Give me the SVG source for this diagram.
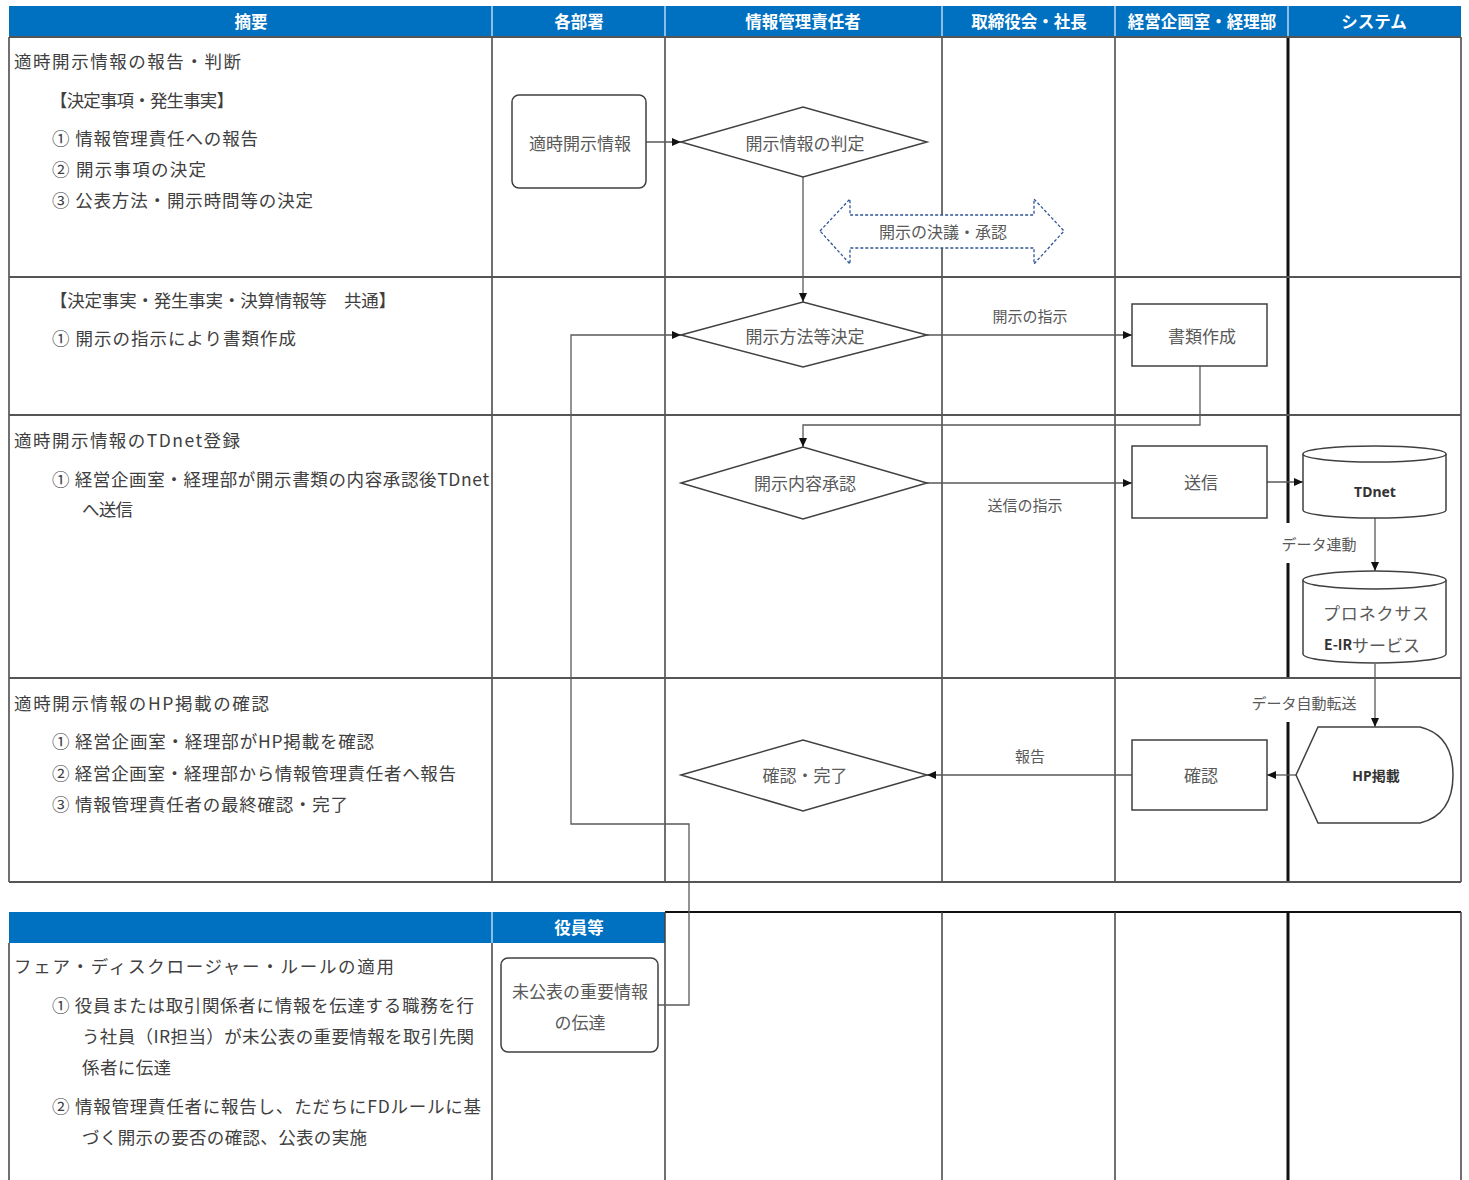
<svg xmlns="http://www.w3.org/2000/svg" width="1469" height="1180" viewBox="0 0 1469 1180">
<style>
.hdr{fill:#0070C0}
.hdrdiv{stroke:#BDD7EE;stroke-width:1.5}
.ht{font-family:"Noto Sans CJK JP","Noto Sans",sans-serif;font-size:16.5px;font-weight:bold;fill:#fff;text-anchor:middle;dominant-baseline:central}
.grid{stroke:#404040;stroke-width:1.5;fill:none}
.rowl{stroke:#555;stroke-width:2;fill:none}
.thick{stroke:#111;stroke-width:3;fill:none}
.lt{font-family:"Noto Sans CJK JP","Noto Sans",sans-serif;font-size:17.5px;fill:#404040;dominant-baseline:central}
.shape{fill:#fff;stroke:#404040;stroke-width:1.5}
.nt{font-family:"Noto Sans CJK JP","Noto Sans",sans-serif;font-size:17px;fill:#595959;text-anchor:middle;dominant-baseline:central}
.nb{font-family:"Noto Sans","Noto Sans CJK JP",sans-serif;font-size:14px;font-weight:bold;fill:#333;text-anchor:middle;dominant-baseline:central}
.lab{font-family:"Noto Sans CJK JP","Noto Sans",sans-serif;font-size:15px;fill:#595959;text-anchor:middle;dominant-baseline:central}
.con{stroke:#595959;stroke-width:1.3;fill:none}
.dash{fill:#fff;stroke:#2F5597;stroke-width:1.3;stroke-dasharray:3 2}
</style>
<defs>
<marker id="ah" markerUnits="userSpaceOnUse" markerWidth="10" markerHeight="10" refX="9" refY="5" orient="auto">
<path d="M0,1 L9,5 L0,9 z" fill="#111"/>
</marker>
</defs>

<g id="table">
<rect class="hdr" x="9" y="6" width="1452" height="31"/>
<line class="hdrdiv" x1="492" y1="6" x2="492" y2="37"/>
<line class="hdrdiv" x1="665" y1="6" x2="665" y2="37"/>
<line class="hdrdiv" x1="942" y1="6" x2="942" y2="37"/>
<line class="hdrdiv" x1="1115" y1="6" x2="1115" y2="37"/>
<line class="hdrdiv" x1="1288" y1="6" x2="1288" y2="37"/>
<text class="ht" x="251" y="21">摘要</text>
<text class="ht" x="579" y="21">各部署</text>
<text class="ht" x="803" y="21">情報管理責任者</text>
<text class="ht" x="1029" y="21">取締役会・社長</text>
<text class="ht" x="1202" y="21">経営企画室・経理部</text>
<text class="ht" x="1374" y="21">システム</text>

<line class="grid" x1="9" y1="37" x2="9" y2="882"/>
<line class="grid" x1="492" y1="37" x2="492" y2="882"/>
<line class="grid" x1="665" y1="37" x2="665" y2="882"/>
<line class="grid" x1="942" y1="37" x2="942" y2="882"/>
<line class="grid" x1="1115" y1="37" x2="1115" y2="882"/>
<line class="grid" x1="1461" y1="37" x2="1461" y2="882"/>
<line class="thick" x1="1288" y1="37" x2="1288" y2="523"/>
<line class="thick" x1="1288" y1="563" x2="1288" y2="679"/>
<line class="thick" x1="1288" y1="722" x2="1288" y2="882"/>
<line class="rowl" x1="9" y1="37" x2="1461" y2="37"/>
<line class="rowl" x1="9" y1="277" x2="1461" y2="277"/>
<line class="rowl" x1="9" y1="415" x2="1461" y2="415"/>
<line class="rowl" x1="9" y1="678" x2="1461" y2="678"/>
<line class="rowl" x1="9" y1="882" x2="1461" y2="882"/>

<rect class="hdr" x="9" y="912" width="656" height="31"/>
<line class="hdrdiv" x1="492" y1="912" x2="492" y2="943"/>
<text class="ht" x="579" y="927">役員等</text>
<line class="rowl" x1="665" y1="912" x2="1461" y2="912" style="stroke:#111"/>
<line class="grid" x1="9" y1="943" x2="9" y2="1180"/>
<line class="grid" x1="492" y1="943" x2="492" y2="1180"/>
<line class="grid" x1="665" y1="912" x2="665" y2="1180"/>
<line class="grid" x1="942" y1="912" x2="942" y2="1180"/>
<line class="grid" x1="1115" y1="912" x2="1115" y2="1180"/>
<line class="thick" x1="1288" y1="912" x2="1288" y2="1180"/>
<line class="grid" x1="1461" y1="912" x2="1461" y2="1180"/>
</g>

<g id="summary-text">
<text class="lt" x="14" y="60" textLength="227" lengthAdjust="spacing">適時開示情報の報告・判断</text>
<text class="lt" x="50" y="99" textLength="184" lengthAdjust="spacing">【決定事項・発生事実】</text>
<text class="lt" x="52" y="137" textLength="206" lengthAdjust="spacing">① 情報管理責任への報告</text>
<text class="lt" x="52" y="168" textLength="154" lengthAdjust="spacing">② 開示事項の決定</text>
<text class="lt" x="52" y="199" textLength="261" lengthAdjust="spacing">③ 公表方法・開示時間等の決定</text>
<text class="lt" x="50" y="299" textLength="346" lengthAdjust="spacing">【決定事実・発生事実・決算情報等　共通】</text>
<text class="lt" x="52" y="337" textLength="244" lengthAdjust="spacing">① 開示の指示により書類作成</text>
<text class="lt" x="14" y="439" textLength="226" lengthAdjust="spacing">適時開示情報のTDnet登録</text>
<text class="lt" x="52" y="478" textLength="437" lengthAdjust="spacing">① 経営企画室・経理部が開示書類の内容承認後TDnet</text>
<text class="lt" x="82" y="508" textLength="51" lengthAdjust="spacing">へ送信</text>
<text class="lt" x="14" y="702" textLength="255" lengthAdjust="spacing">適時開示情報のHP掲載の確認</text>
<text class="lt" x="52" y="740" textLength="322" lengthAdjust="spacing">① 経営企画室・経理部がHP掲載を確認</text>
<text class="lt" x="52" y="772" textLength="404" lengthAdjust="spacing">② 経営企画室・経理部から情報管理責任者へ報告</text>
<text class="lt" x="52" y="803" textLength="296" lengthAdjust="spacing">③ 情報管理責任者の最終確認・完了</text>
<text class="lt" x="14" y="965" textLength="380" lengthAdjust="spacing">フェア・ディスクロージャー・ルールの適用</text>
<text class="lt" x="52" y="1004" textLength="422" lengthAdjust="spacing">① 役員または取引関係者に情報を伝達する職務を行</text>
<text class="lt" x="82" y="1035" textLength="392" lengthAdjust="spacing">う社員（IR担当）が未公表の重要情報を取引先関</text>
<text class="lt" x="82" y="1066" textLength="89" lengthAdjust="spacing">係者に伝達</text>
<text class="lt" x="52" y="1105" textLength="429" lengthAdjust="spacing">② 情報管理責任者に報告し、ただちにFDルールに基</text>
<text class="lt" x="82" y="1136" textLength="285" lengthAdjust="spacing">づく開示の要否の確認、公表の実施</text>
</g>

<g id="connectors">
<line class="con" x1="646" y1="142" x2="681" y2="142" marker-end="url(#ah)"/>
<line class="con" x1="803" y1="177" x2="803" y2="302" marker-end="url(#ah)"/>
<line class="con" x1="927" y1="335" x2="1132" y2="335" marker-end="url(#ah)"/>
<text class="lab" x="1030" y="315">開示の指示</text>
<polyline class="con" points="1200,366 1200,425 803,425 803,447" marker-end="url(#ah)"/>
<line class="con" x1="927" y1="483" x2="1132" y2="483" marker-end="url(#ah)"/>
<text class="lab" x="1025" y="504">送信の指示</text>
<line class="con" x1="1267" y1="482" x2="1303" y2="482" marker-end="url(#ah)"/>
<line class="con" x1="1375" y1="518" x2="1375" y2="571" marker-end="url(#ah)"/>
<text class="lab" x="1319" y="543">データ連動</text>
<line class="con" x1="1375" y1="664" x2="1375" y2="727" marker-end="url(#ah)"/>
<text class="lab" x="1304" y="702">データ自動転送</text>
<line class="con" x1="1296" y1="775" x2="1267" y2="775" marker-end="url(#ah)"/>
<line class="con" x1="1132" y1="775" x2="927" y2="775" marker-end="url(#ah)"/>
<text class="lab" x="1030" y="755">報告</text>
<polyline class="con" points="658,1005 689,1005 689,824 571,824 571,335 681,335" marker-end="url(#ah)"/>
</g>

<g id="n-tekiji">
<rect class="shape" x="512" y="95" width="134" height="93" rx="7"/>
<text class="nt" x="580" y="142">適時開示情報</text>
</g>
<g id="n-hantei">
<polygon class="shape" points="681,142 803,107 927,142 803,177"/>
<text class="nt" x="805" y="142">開示情報の判定</text>
</g>
<g id="n-ketsugi">
<polygon class="dash" points="820,231 850,199 850,215 1034,215 1034,199 1064,231 1034,264 1034,248 850,248 850,264"/>
<text class="lab" x="943" y="231" style="font-size:16px">開示の決議・承認</text>
</g>
<g id="n-houhou">
<polygon class="shape" points="681,335 803,302 927,335 803,367"/>
<text class="nt" x="805" y="335">開示方法等決定</text>
</g>
<g id="n-shorui">
<rect class="shape" x="1132" y="304" width="135" height="62"/>
<text class="nt" x="1202" y="335">書類作成</text>
</g>
<g id="n-shounin">
<polygon class="shape" points="681,483 803,447 927,483 803,519"/>
<text class="nt" x="805" y="482">開示内容承認</text>
</g>
<g id="n-soushin">
<rect class="shape" x="1132" y="446" width="135" height="72"/>
<text class="nt" x="1201" y="481">送信</text>
</g>
<g id="n-tdnet">
<path class="shape" d="M1303,454 A71.5,8 0 0 1 1446,454 L1446,510 A71.5,8 0 0 1 1303,510 Z"/>
<path class="shape" d="M1303,454 A71.5,8 0 0 0 1446,454" fill="none"/>
<text class="nb" x="1375" y="491">TDnet</text>
</g>
<g id="n-pronexus">
<path class="shape" d="M1303,580 A71.5,9 0 0 1 1446,580 L1446,654 A71.5,9 0 0 1 1303,654 Z"/>
<path class="shape" d="M1303,580 A71.5,9 0 0 0 1446,580" fill="none"/>
<text class="nt" x="1376" y="612" textLength="106" lengthAdjust="spacing">プロネクサス</text>
<text class="nt" x="1372" y="644"><tspan style="font-weight:bold;font-size:14px;fill:#333">E-IR</tspan>サービス</text>
</g>
<g id="n-hp">
<path class="shape" d="M1296,775 L1318,727 L1420,727 Q1453,735 1453,775 Q1453,815 1420,823 L1318,823 Z"/>
<text class="nb" x="1376" y="775">HP掲載</text>
</g>
<g id="n-kakunin">
<rect class="shape" x="1132" y="740" width="135" height="70"/>
<text class="nt" x="1201" y="774">確認</text>
</g>
<g id="n-kanryou">
<polygon class="shape" points="681,775 803,740 927,775 803,811"/>
<text class="nt" x="805" y="774">確認・完了</text>
</g>
<g id="n-mikouhyou">
<rect class="shape" x="501" y="958" width="157" height="94" rx="7"/>
<text class="nt" x="580" y="990">未公表の重要情報</text>
<text class="nt" x="580" y="1021">の伝達</text>
</g>
</svg>
